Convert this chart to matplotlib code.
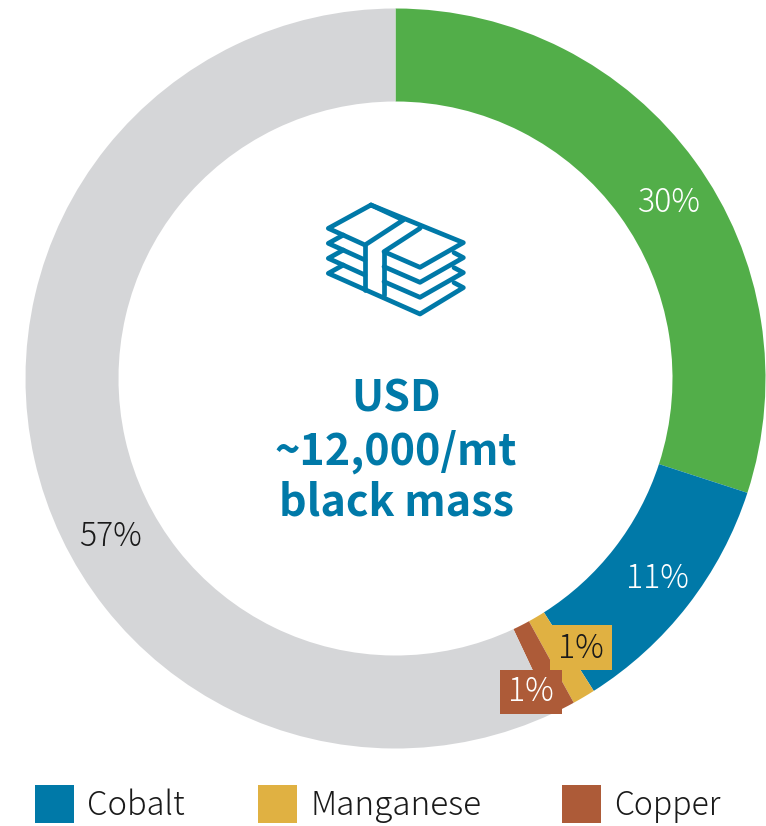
import matplotlib
matplotlib.use("Agg")
import matplotlib.pyplot as plt
from matplotlib.patches import Rectangle

categories = ["Nickel", "Cobalt", "Manganese", "Copper", "Other"]
values = [30, 11, 1, 1, 57]
labels = ["30%", "11%", "1%", "1%", "57%"]
colors = ["#52AE49", "#0079A8", "#E0B142", "#AD5B38", "#D5D6D8"]
legend_names = ["Cobalt", "Manganese", "Copper"]
legend_colors = ["#0079A8", "#E0B142", "#AD5B38"]
center_text = ["USD", "~12,000/mt", "black mass"]
H = 826
BLUE = "#0079A8"
FONT = "Noto Sans CJK JP"

fig = plt.figure(figsize=(7.66, 8.26), dpi=100)
ax = fig.add_axes([0, 0, 1, 1])
ax.pie(values, colors=colors, startangle=90, counterclock=False,
       center=(395.5, H - 378.5), radius=370,
       wedgeprops=dict(width=93, linewidth=0))
ax.set_xlim(0, 766)
ax.set_ylim(0, H)
ax.set_aspect("equal")
ax.axis("off")

def Y(y):
    return H - y

# label boxes for the two thin slices
ax.add_patch(Rectangle((550, Y(670)), 62, 45, fc="#E0B142", ec="none", zorder=3))
ax.add_patch(Rectangle((500, Y(714)), 62, 44, fc="#AD5B38", ec="none", zorder=3))

label_pos = [(669, 203, "white"), (657, 579, "white"), (581, 649, "#1a1a1a"),
             (531, 692, "white"), (110, 537, "#1a1a1a")]
for t, (x, y, c) in zip(labels, label_pos):
    ax.text(x, Y(y), t, color=c, fontsize=23, ha="center", va="center",
            family=FONT, fontweight="light", zorder=4)

for t, y in zip(center_text, [399, 452, 503]):
    ax.text(396, Y(y), t, color=BLUE, fontsize=31, ha="center", va="center",
            family=FONT, fontweight="bold", zorder=4)

# banknote-stack icon
def icon(points, closed=False):
    xs = [300 + p[0] / 3 for p in points]
    ys = [Y(190 + p[1] / 3) for p in points]
    if closed:
        xs.append(xs[0]); ys.append(ys[0])
    ax.plot(xs, ys, color=BLUE, lw=3.4, solid_joinstyle="round", solid_capstyle="round", zorder=4)

icon([(213, 45), (85, 115), (195, 165), (310, 90)], closed=True)
icon([(213, 45), (490, 158), (360, 232), (252, 185), (360, 115)])
icon([(195, 165), (195, 300)])
icon([(252, 185), (252, 315)])
for dy in (45, 90):
    icon([(130, 135 + dy - 45), (85, 115 + dy), (195, 165 + dy)])
    icon([(252, 185 + dy), (360, 232 + dy), (490, 158 + dy), (462, 143 + dy)])
icon([(130, 225), (85, 250), (360, 372), (490, 293), (462, 278)])

# legend
for name, c, sx, tx, fs in zip(legend_names, legend_colors, [35, 258, 562], [87, 311, 614], [23.5, 24, 23]):
    ax.add_patch(Rectangle((sx, Y(823)), 39, 38, fc=c, ec="none"))
    ax.text(tx, Y(806), name, color="#1a1a1a", fontsize=fs, ha="left", va="center",
            family=FONT, fontweight="light")

fig.savefig("out.png", dpi=100)
